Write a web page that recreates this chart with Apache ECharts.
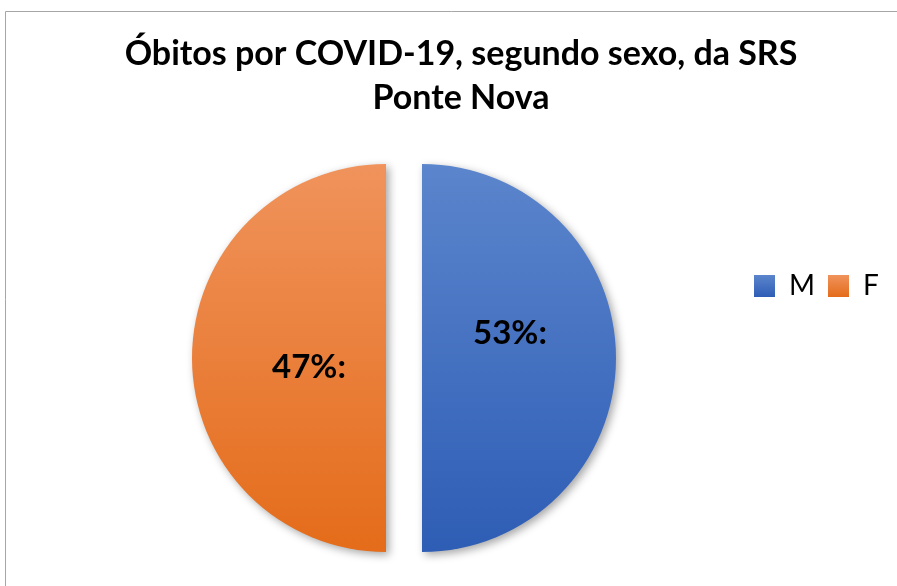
<!DOCTYPE html>
<html>
<head>
<meta charset="utf-8">
<script src="https://cdn.jsdelivr.net/npm/echarts@6/dist/echarts.min.js"></script>
<style>
  html, body { margin: 0; padding: 0; background: #fff; }
  #chart { width: 897px; height: 586px; }
</style>
</head>
<body>
<div id="chart"></div>
<script>
// slices are drawn as two equal halves in the source picture,
// while the data labels read 53% / 47%
const categories = ["M", "F"];
const sliceShares = [50, 50];
const labelTexts = ["53%:", "47%:"];

const chart = echarts.init(document.getElementById("chart"));

const gradients = [
  new echarts.graphic.LinearGradient(0, 0, 0, 1, [
    { offset: 0, color: "#5b85cc" },
    { offset: 1, color: "#2e5db5" }
  ]),
  new echarts.graphic.LinearGradient(0, 0, 0, 1, [
    { offset: 0, color: "#f0935c" },
    { offset: 1, color: "#e46c1a" }
  ])
];

// nudges so the labels sit where the source put them
const labelNudge = [[-12, -25], [23, 9]];

chart.setOption({
  animation: false,
  graphic: [
    {
      type: "rect",
      shape: { x: 5.5, y: 11.5, width: 1200, height: 1200 },
      style: { fill: "none", stroke: "#a6a6a6", lineWidth: 1 },
      silent: true
    }
  ],
  title: {
    text: "Óbitos por COVID-19, segundo sexo, da SRS\nPonte Nova",
    left: 456,
    top: 27,
    textAlign: "center",
    textStyle: {
      fontFamily: "Lato",
      fontWeight: "bold",
      fontSize: 34,
      lineHeight: 44,
      color: "#000"
    }
  },
  legend: {
    orient: "horizontal",
    left: 749,
    top: 267,
    itemWidth: 21,
    itemHeight: 22,
    itemGap: 13,
    icon: "rect",
    selectedMode: false,
    textStyle: {
      fontFamily: "Lato",
      fontSize: 28,
      color: "#000",
      padding: [0, 0, 0, 9]
    },
    data: categories
  },
  series: [
    {
      type: "pie",
      center: [404, 358],
      radius: [0, 194],
      startAngle: 90,
      clockwise: true,
      selectedMode: "multiple",
      selectedOffset: 18,
      emphasis: { disabled: true },
      label: {
        show: true,
        position: "inside",
        fontFamily: "Lato",
        fontWeight: "bold",
        fontSize: 33,
        color: "#000",
        formatter: (p) => labelTexts[p.dataIndex]
      },
      labelLine: { show: false },
      labelLayout: (p) => ({ dx: labelNudge[p.dataIndex][0], dy: labelNudge[p.dataIndex][1] }),
      itemStyle: {
        shadowBlur: 8,
        shadowOffsetX: 3,
        shadowOffsetY: 3,
        shadowColor: "rgba(0,0,0,0.35)"
      },
      data: categories.map((name, i) => ({
        name,
        value: sliceShares[i],
        selected: true,
        itemStyle: { color: gradients[i] }
      }))
    }
  ]
});
</script>
</body>
</html>
